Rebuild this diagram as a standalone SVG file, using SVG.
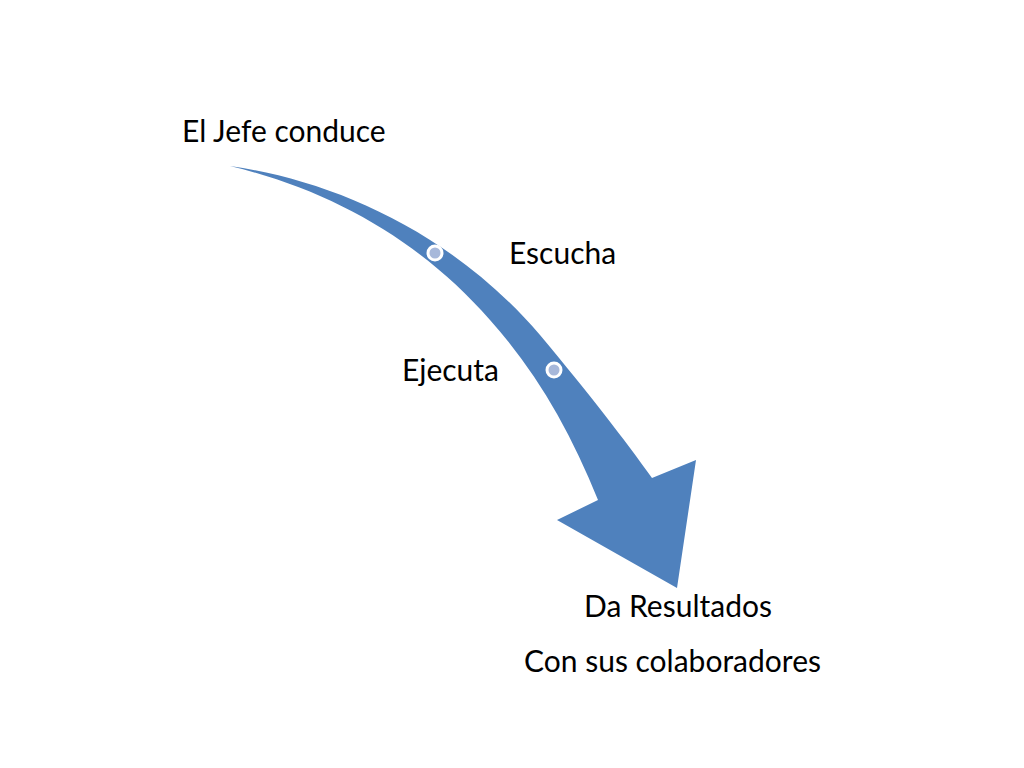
<svg xmlns="http://www.w3.org/2000/svg" width="1024" height="768" viewBox="0 0 1024 768">
<style>
text{font-family:Lato,"Open Sans","Liberation Sans",sans-serif;font-size:30px;fill:#000}
.dot{fill:#a7b8da;stroke:#fff;stroke-width:3}
</style>
<rect width="1024" height="768" fill="#fff"/>
<g id="connectors">
<path id="arrow" d="M230,166 C330,180 450,230 540,335 C590,395 625,440 652,478 L696,460 L677,588 L557,520 L598,500 C570,430 535,370 490,320 C420,240 330,190 230,166 Z" fill="#4f81bd"/>
</g>
<g id="n1"><text x="182" y="142">El Jefe conduce</text></g>
<g id="n2"><circle class="dot" cx="435" cy="253" r="7"/><text x="509" y="264">Escucha</text></g>
<g id="n3"><circle class="dot" cx="554" cy="370" r="7"/><text x="402" y="381">Ejecuta</text></g>
<g id="n4"><text x="584" y="617">Da Resultados</text></g>
<g id="n5"><text x="524" y="672">Con sus colaboradores</text></g>
</svg>
